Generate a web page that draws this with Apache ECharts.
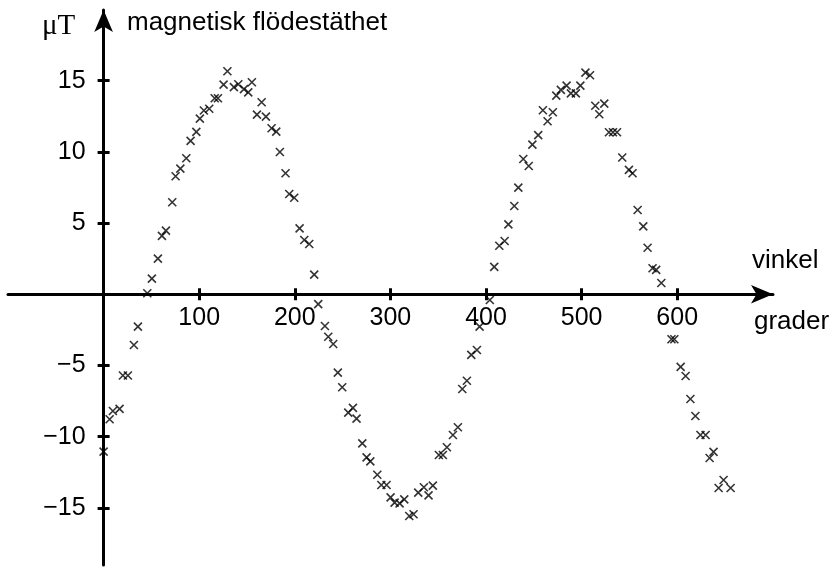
<!DOCTYPE html>
<html><head><meta charset="utf-8">
<script src="https://cdn.jsdelivr.net/npm/echarts@6/dist/echarts.min.js"></script>
<style>html,body{margin:0;padding:0;background:#fff}#c{width:832px;height:570px}</style>
</head><body><div id="c"></div>
<script>
// angle in degrees
const angles = [0,6.3,9.7,16.7,20.2,25.4,31.7,35.9,45.7,50.5,56.8,61,65.2,71.8,75.3,80.3,86.5,91,97,100.7,104.9,110.5,116.2,119.6,125.5,129.5,136.3,140.9,146.8,151.3,155.1,160.4,165.3,169.8,175.7,180.6,184.4,190.3,194.2,199.4,205,209.9,215.1,220.3,224.5,231.5,235,240.2,245,249.6,255.9,260.8,264.6,270.6,275.1,279,286.3,290.5,296,300.2,304.4,309.6,314.5,319.7,324.2,329.1,335,339.9,344.4,350.7,354.9,359.1,365.4,370.6,375.2,380,384.6,390.5,393.3,404,408.6,413.9,419.5,423.4,429.6,433.8,439,444.7,448.5,454.6,459.5,464.4,469.9,473.5,478.3,484.3,488.8,494,498.7,504,508.8,514.3,518.5,523.7,528.6,532.8,537,542.5,549.5,553.3,558.6,564.5,569,574.2,578,583.4,594,597,603.6,608.8,613.8,619,624.3,629.7,633.9,638,643.3,648.5,655.9];
// magnetic flux density in microtesla
const fluxes = [-11.05,-8.78,-8.2,-8.05,-5.7,-5.7,-3.56,-2.27,0.07,1.1,2.5,4.1,4.47,6.46,8.29,8.82,9.55,10.77,11.4,12.33,12.9,13.03,13.76,13.76,14.72,15.66,14.54,14.75,14.4,14.18,14.89,12.61,13.48,12.47,11.66,11.42,9.99,8.5,7.04,6.78,4.63,3.81,3.53,1.38,-0.69,-2.23,-2.98,-3.49,-5.5,-6.53,-8.31,-7.98,-8.73,-10.47,-11.45,-11.73,-12.67,-13.39,-13.39,-14.26,-14.63,-14.68,-14.4,-15.57,-15.45,-13.93,-13.55,-14.12,-13.44,-11.29,-11.29,-10.74,-9.88,-9.34,-6.65,-6.07,-4.26,-3.91,-2.27,-0.4,1.92,3.41,3.74,4.91,6.2,7.49,9.5,9.01,10.51,11.17,12.92,12.15,12.78,13.95,14.35,14.65,14.11,14.11,14.65,15.56,15.38,13.24,12.64,13.39,11.38,11.38,11.38,9.6,8.73,8.5,5.92,4.77,3.27,1.83,1.71,0.79,-3.16,-3.16,-5.1,-5.74,-7.35,-8.55,-9.88,-9.88,-11.5,-11.07,-13.6,-13.04,-13.6];
const xTicks = [100,200,300,400,500,600];
const yTicks = [-15,-10,-5,5,10,15];
const yLabels = ['\u221215','\u221210','\u22125','5','10','15'];
const yLabelOf = v => yLabels[yTicks.indexOf(v)];

const FONT = 'Liberation Sans, Arial, sans-serif';
const chart = echarts.init(document.getElementById('c'));
const W = 832, H = 570;
const G = {left:8, right:59, top:10, bottom:5};
const xMin = -100, xMax = 700.2, yMin = -19.01, yMax = 19.96;
const gw = W - G.left - G.right, gh = H - G.top - G.bottom;
// offsets that move the axes onto the zero lines of the other axis
const xOff = -(gh * (0 - yMin) / (yMax - yMin));
const yOff = -(gw * (0 - xMin) / (xMax - xMin));
const lineStyle = {color:'#000', width:3};
function xAx(inside, showLine, showLabel){
  return {type:'value', min:xMin, max:xMax, position:'bottom', offset:xOff,
    axisLine:{show:showLine, onZero:false, lineStyle, symbol:['none','arrow'], symbolSize:[14,22]},
    axisTick:{show:true, inside, length:6, customValues:xTicks, lineStyle:{color:'#000', width:3}},
    axisLabel:{show:showLabel, customValues:xTicks, fontSize:25, color:'#000', fontFamily:FONT, margin:11},
    splitLine:{show:false}};
}
function yAx(inside, showLine, showLabel){
  return {type:'value', min:yMin, max:yMax, position:'left', offset:yOff,
    axisLine:{show:showLine, onZero:false, lineStyle, symbol:['none','arrow'], symbolSize:[14,22]},
    axisTick:{show:true, inside, length:6, customValues:yTicks, lineStyle:{color:'#000', width:3}},
    axisLabel:{show:showLabel, customValues:yTicks, formatter:v=>yLabelOf(v), fontSize:25, color:'#000', fontFamily:FONT, margin:18},
    splitLine:{show:false}};
}
chart.setOption({
  animation:false,
  backgroundColor:'#fff',
  grid:Object.assign({containLabel:false, outerBoundsMode:'none'}, G),
  xAxis:[xAx(false,true,true), xAx(true,false,false)],
  yAxis:[yAx(false,true,true), yAx(true,false,false)],
  series:[{type:'scatter', xAxisIndex:0, yAxisIndex:0,
    data: angles.map((a,i)=>[a, fluxes[i]]),
    symbol:'path://M0,0L10,10M10,0L0,10', symbolSize:8,
    itemStyle:{color:'rgba(0,0,0,0)', borderColor:'#000', borderWidth:1.6}}],
  graphic:[
    {type:'text', x:42, y:26, style:{text:'\u03bcT', fontSize:29, fontFamily:'Liberation Serif, Times New Roman, serif', fill:'#000', verticalAlign:'middle'}},
    {type:'text', x:127, y:23, style:{text:'magnetisk flödestäthet', fontSize:26, fontFamily:FONT, fill:'#000', verticalAlign:'middle'}},
    {type:'text', x:752, y:261, style:{text:'vinkel', fontSize:26, fontFamily:FONT, fill:'#000', verticalAlign:'middle'}},
    {type:'text', x:754, y:322, style:{text:'grader', fontSize:26, fontFamily:FONT, fill:'#000', verticalAlign:'middle'}}
  ]
});
</script></body></html>
